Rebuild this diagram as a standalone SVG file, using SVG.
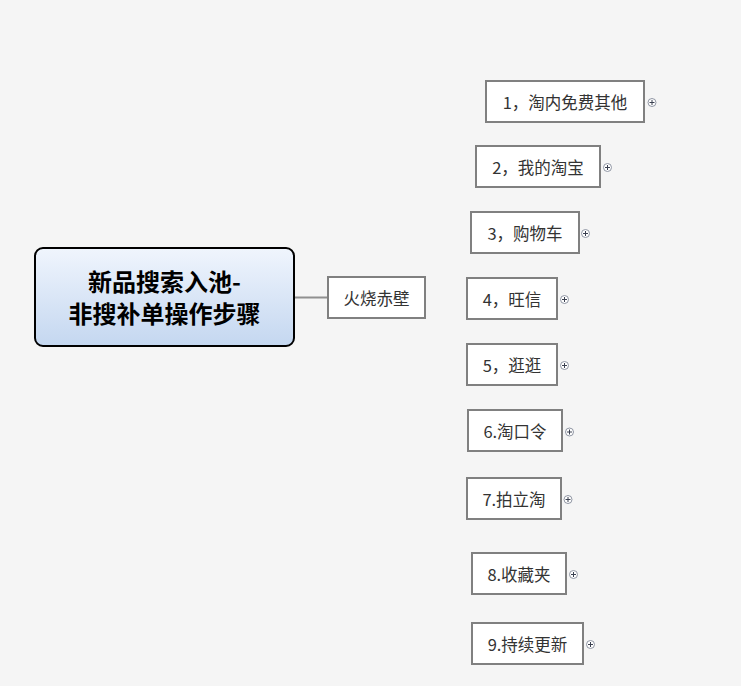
<svg xmlns="http://www.w3.org/2000/svg" width="741" height="686" viewBox="0 0 741 686">
<style>
.bg{fill:#f5f5f5}
.box{fill:#ffffff;stroke:#808080;stroke-width:2}
.t{font-family:"Microsoft YaHei","Noto Sans CJK SC",sans-serif;font-size:16.5px;fill:#333333;text-anchor:middle;dominant-baseline:central}
.rt{font-family:"Noto Sans CJK SC",sans-serif;font-size:24px;font-weight:bold;fill:#000000;text-anchor:middle}
.pc{fill:#ffffff;stroke:#8f95a3;stroke-width:1}
.pl{stroke:#3a4050;stroke-width:1}
.conn{stroke:#909090;stroke-width:2;fill:none}
</style>
<defs>
<linearGradient id="rg" x1="0" y1="0" x2="0" y2="1">
<stop offset="0" stop-color="#f0f5fd"/>
<stop offset="1" stop-color="#c4d7f0"/>
</linearGradient>
<g id="plus"><circle class="pc" cx="0" cy="0" r="4"/><path class="pl" d="M-2.5 0H2.5M0 -2.5V2.5"/></g>
</defs>
<rect class="bg" x="0" y="0" width="741" height="686"/>
<g id="connectors">
<line class="conn" x1="294" y1="297.5" x2="328" y2="297.5"/>
</g>
<g id="root">
<rect x="35" y="248" width="259" height="98" rx="8" ry="8" fill="url(#rg)" stroke="#000000" stroke-width="2"/>
<text class="rt" x="164.5" y="290.5">新品搜索入池-</text>
<text class="rt" x="164.5" y="322.5">非搜补单操作步骤</text>
</g>
<g id="n0"><rect class="box" x="328" y="277" width="97" height="41"/><text class="t" x="376.5" y="297.5">火烧赤壁</text></g>
<g id="n1"><rect class="box" x="486" y="81" width="158" height="41"/><text class="t" x="565" y="101.5">1，淘内免费其他</text><use href="#plus" x="652" y="102.5"/></g>
<g id="n2"><rect class="box" x="476" y="146" width="124" height="41"/><text class="t" x="538" y="166.5">2，我的淘宝</text><use href="#plus" x="607.5" y="167.5"/></g>
<g id="n3"><rect class="box" x="471" y="212" width="108" height="41"/><text class="t" x="525" y="232.5">3，购物车</text><use href="#plus" x="585.5" y="233.5"/></g>
<g id="n4"><rect class="box" x="467" y="278" width="90" height="41"/><text class="t" x="512" y="298.5">4，旺信</text><use href="#plus" x="564.5" y="299.5"/></g>
<g id="n5"><rect class="box" x="467" y="344" width="90" height="41"/><text class="t" x="512" y="364.5">5，逛逛</text><use href="#plus" x="564.5" y="365.5"/></g>
<g id="n6"><rect class="box" x="468" y="410" width="94" height="41"/><text class="t" x="515" y="430.5">6.淘口令</text><use href="#plus" x="569.5" y="432"/></g>
<g id="n7"><rect class="box" x="467" y="478" width="94" height="41"/><text class="t" x="514" y="498.5">7.拍立淘</text><use href="#plus" x="568" y="499.5"/></g>
<g id="n8"><rect class="box" x="472" y="553" width="94" height="41"/><text class="t" x="519" y="573.5">8.收藏夹</text><use href="#plus" x="573.5" y="574.5"/></g>
<g id="n9"><rect class="box" x="472" y="623" width="111" height="41"/><text class="t" x="527.5" y="643.5">9.持续更新</text><use href="#plus" x="590.5" y="644.5"/></g>
</svg>
